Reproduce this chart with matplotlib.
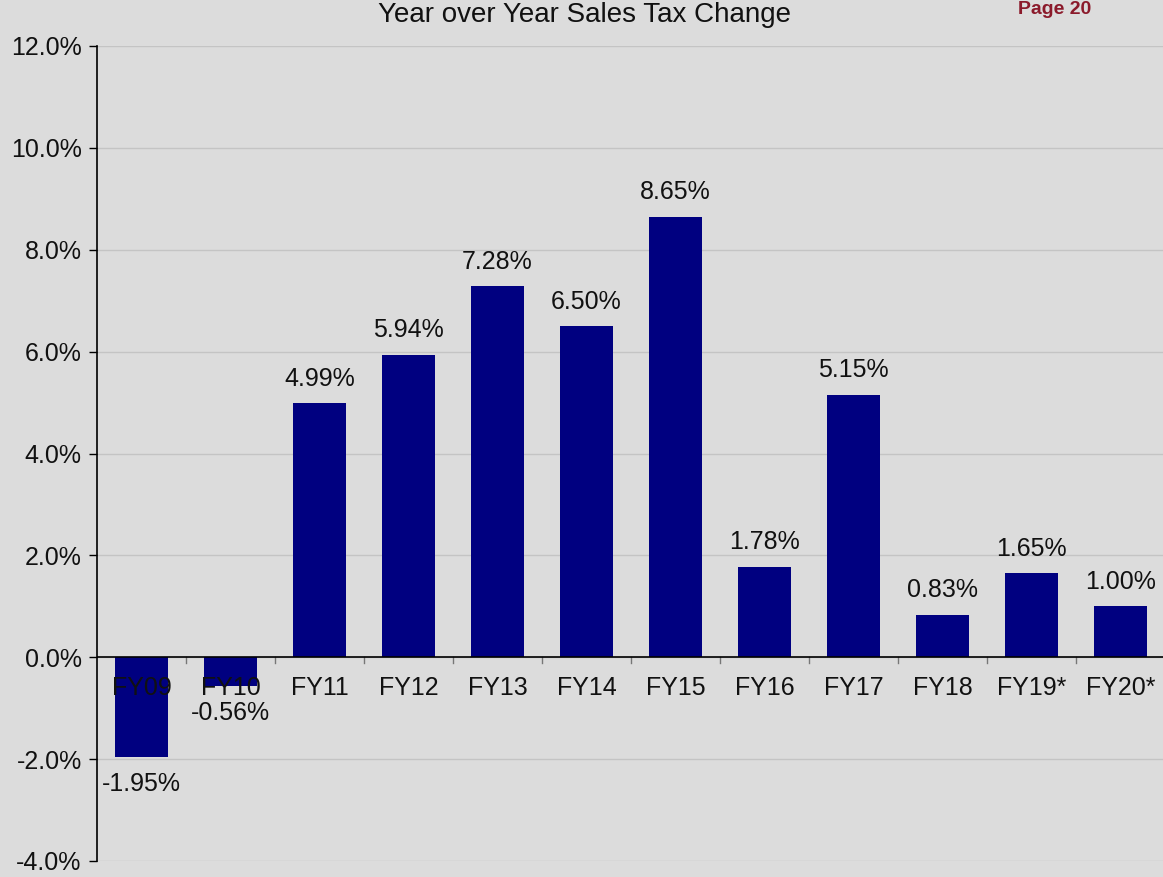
import numpy as np
import matplotlib.pyplot as plt

categories = ['FY09', 'FY10', 'FY11', 'FY12', 'FY13', 'FY14', 'FY15', 'FY16',
              'FY17', 'FY18', 'FY19*', 'FY20*']
values = [-1.95, -0.56, 4.99, 5.94, 7.28, 6.50, 8.65, 1.78, 5.15, 0.83, 1.65, 1.00]
yticks = [-4, -2, 0, 2, 4, 6, 8, 10, 12]

plt.rcParams['font.family'] = ['Liberation Sans', 'DejaVu Sans']

bg = '#dcdcdc'
fig = plt.figure(figsize=(11.63, 8.77), dpi=100, facecolor=bg)
ax = fig.add_axes([97 / 1163, 16 / 877, 1068 / 1163, 815 / 877])
ax.set_facecolor(bg)

x = np.arange(len(categories))
ax.bar(x, values, width=0.6, color='#000080', zorder=3)

ax.set_xlim(-0.5, len(categories) - 0.5)
ax.set_ylim(-4, 12)
ax.set_yticks(yticks)
ax.set_yticklabels(['%.1f%%' % v for v in yticks], fontsize=18, color='#111111')
ax.yaxis.grid(True, color='#c4c4c4', linewidth=1, zorder=0)
ax.tick_params(axis='y', direction='out', length=6, width=1, pad=5)

# category labels sit just under the zero line
ax.set_xticks([])
for xi, c in zip(x, categories):
    ax.text(xi, -0.36, c, ha='center', va='top', fontsize=18, color='#111111', zorder=4)
for xb in np.arange(0.5, len(categories) - 0.5, 1):
    ax.plot([xb, xb], [0, -0.12], color='#777777', linewidth=1, zorder=4)

ax.axhline(0, color='black', linewidth=1.2, zorder=4)

for s in ['top', 'right', 'bottom']:
    ax.spines[s].set_visible(False)
ax.spines['left'].set_color('black')
ax.spines['left'].set_linewidth(1.2)

for xi, v in zip(x, values):
    if v >= 0:
        ax.annotate('%.2f%%' % v, (xi, v), xytext=(0, 9), textcoords='offset points',
                    ha='center', va='bottom', fontsize=18, color='#111111', zorder=5)
    else:
        ax.annotate('%.2f%%' % v, (xi, v), xytext=(0, -11), textcoords='offset points',
                    ha='center', va='top', fontsize=18, color='#111111', zorder=5)

fig.text(585 / 1163, 1 - 15 / 877, 'Year over Year Sales Tax Change', ha='center',
         va='center', fontsize=20, color='#111111')
fig.text(1055 / 1163, 1 - 1 / 877, 'Page 20', ha='center', va='top',
         fontsize=14, color='#8b1a2b', fontweight='bold')

fig.savefig('out.png', dpi=100, facecolor=bg)
